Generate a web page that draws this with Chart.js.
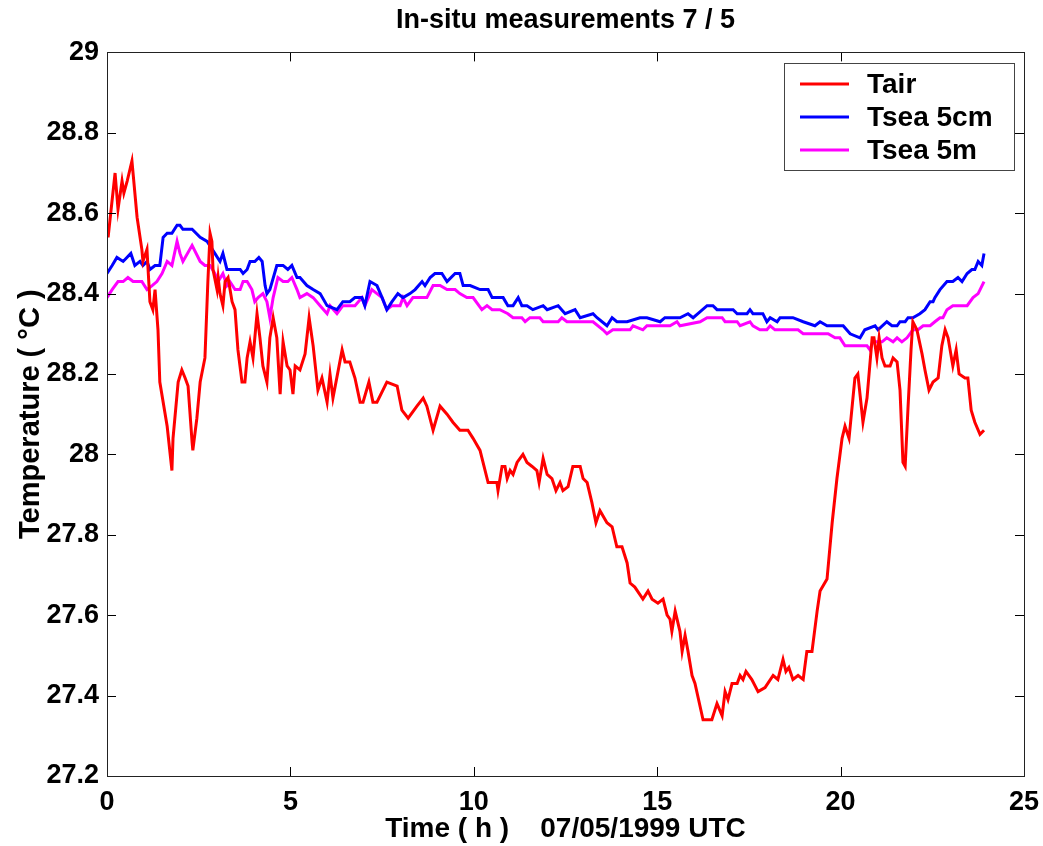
<!DOCTYPE html>
<html>
<head>
<meta charset="utf-8">
<script src="https://cdn.jsdelivr.net/npm/chart.js@4"></script>
<style>
  html, body { margin: 0; padding: 0; background: #fff; }
  #wrap { width: 1043px; height: 846px; }
</style>
</head>
<body>
<div id="wrap"><canvas id="chart" width="1043" height="846"></canvas></div>
<script>
// Tair (red)
var tairHours = [0.00,0.03,0.22,0.30,0.41,0.46,0.55,0.68,0.82,0.95,0.98,1.09,1.12,1.17,1.25,1.31,1.39,1.44,1.64,1.77,1.80,1.94,2.04,2.13,2.21,2.32,2.34,2.45,2.54,2.67,2.75,2.81,2.86,2.89,3.00,3.03,3.08,3.16,3.22,3.30,3.41,3.49,3.57,3.68,3.76,3.82,3.90,3.98,4.09,4.17,4.25,4.36,4.44,4.53,4.63,4.72,4.80,4.91,4.99,5.07,5.13,5.26,5.40,5.51,5.62,5.75,5.86,6.00,6.08,6.16,6.41,6.49,6.62,6.76,6.90,6.98,7.14,7.25,7.36,7.63,7.91,8.04,8.21,8.45,8.62,8.72,8.89,9.08,9.27,9.43,9.62,9.84,9.98,10.17,10.39,10.63,10.66,10.77,10.85,10.91,10.99,11.07,11.18,11.34,11.45,11.59,11.72,11.78,11.89,12.00,12.13,12.24,12.35,12.43,12.57,12.70,12.90,12.98,13.09,13.22,13.33,13.44,13.63,13.77,13.90,14.04,14.18,14.26,14.39,14.61,14.75,14.86,15.02,15.16,15.27,15.35,15.40,15.49,15.62,15.68,15.76,15.84,15.95,16.03,16.25,16.49,16.63,16.77,16.85,16.93,17.04,17.18,17.26,17.34,17.42,17.58,17.75,17.94,18.16,18.29,18.43,18.51,18.59,18.70,18.84,18.98,19.08,19.22,19.36,19.44,19.63,19.77,19.90,20.04,20.12,20.23,20.39,20.47,20.61,20.72,20.86,20.91,20.99,21.05,21.13,21.21,21.35,21.43,21.54,21.62,21.70,21.76,21.84,21.92,21.97,22.08,22.22,22.30,22.41,22.52,22.66,22.76,22.85,22.93,23.06,23.15,23.23,23.39,23.47,23.56,23.66,23.80,23.91];
var tairValues = [28.57,28.54,28.70,28.61,28.68,28.65,28.68,28.73,28.59,28.51,28.48,28.51,28.46,28.38,28.36,28.41,28.31,28.18,28.07,27.96,28.04,28.18,28.21,28.19,28.17,28.03,28.01,28.09,28.18,28.24,28.43,28.55,28.53,28.46,28.41,28.44,28.40,28.37,28.43,28.44,28.38,28.36,28.26,28.18,28.18,28.24,28.28,28.24,28.35,28.29,28.22,28.18,28.29,28.34,28.29,28.15,28.28,28.22,28.21,28.15,28.22,28.21,28.25,28.34,28.27,28.16,28.19,28.13,28.20,28.14,28.26,28.23,28.23,28.19,28.13,28.13,28.18,28.13,28.13,28.18,28.17,28.11,28.09,28.12,28.14,28.12,28.06,28.12,28.10,28.08,28.06,28.06,28.04,28.01,27.93,27.93,27.91,27.97,27.97,27.94,27.96,27.95,27.98,28.00,27.98,27.97,27.96,27.93,27.99,27.95,27.94,27.91,27.93,27.91,27.92,27.97,27.97,27.94,27.93,27.88,27.83,27.86,27.83,27.82,27.77,27.77,27.73,27.68,27.67,27.64,27.66,27.64,27.63,27.64,27.60,27.59,27.56,27.61,27.56,27.51,27.55,27.51,27.45,27.43,27.34,27.34,27.38,27.35,27.41,27.39,27.43,27.43,27.45,27.44,27.46,27.44,27.41,27.42,27.45,27.44,27.49,27.46,27.47,27.44,27.45,27.44,27.51,27.51,27.61,27.66,27.69,27.83,27.94,28.04,28.07,28.04,28.19,28.20,28.08,28.14,28.29,28.29,28.24,28.29,28.24,28.22,28.22,28.24,28.23,28.16,27.98,27.97,28.12,28.26,28.33,28.31,28.25,28.21,28.16,28.18,28.19,28.27,28.31,28.29,28.22,28.26,28.20,28.19,28.19,28.11,28.08,28.05,28.06];

// Tsea 5cm (blue)
var sea5cmHours = [0.00,0.14,0.27,0.44,0.65,0.76,0.90,0.98,1.09,1.17,1.31,1.44,1.53,1.64,1.77,1.91,1.99,2.07,2.32,2.54,2.73,2.94,3.08,3.16,3.27,3.41,3.63,3.71,3.82,3.90,4.03,4.14,4.23,4.31,4.36,4.44,4.63,4.80,4.93,5.04,5.18,5.26,5.45,5.62,5.81,6.00,6.27,6.43,6.62,6.76,6.95,7.03,7.17,7.36,7.50,7.63,7.77,7.93,8.07,8.26,8.40,8.59,8.67,8.81,8.94,9.13,9.27,9.49,9.62,9.71,9.90,10.17,10.39,10.50,10.63,10.80,10.93,11.07,11.21,11.31,11.45,11.61,11.89,12.00,12.30,12.49,12.76,12.90,13.25,13.36,13.63,13.77,13.90,14.18,14.53,14.72,15.08,15.21,15.62,15.84,15.98,16.11,16.36,16.52,16.63,16.79,17.07,17.18,17.45,17.53,17.61,17.88,17.99,18.08,18.27,18.35,18.70,18.98,19.30,19.44,19.63,20.07,20.26,20.53,20.66,20.94,21.02,21.26,21.40,21.54,21.62,21.76,21.84,21.97,22.16,22.30,22.44,22.52,22.57,22.71,22.90,23.06,23.20,23.31,23.45,23.58,23.66,23.75,23.85,23.91];
var sea5cmValues = [28.45,28.47,28.49,28.48,28.50,28.47,28.48,28.47,28.48,28.46,28.47,28.47,28.54,28.55,28.55,28.57,28.57,28.56,28.56,28.54,28.53,28.50,28.48,28.50,28.46,28.46,28.46,28.45,28.46,28.48,28.48,28.49,28.48,28.42,28.40,28.41,28.47,28.47,28.46,28.47,28.44,28.44,28.42,28.41,28.40,28.37,28.36,28.38,28.38,28.39,28.39,28.37,28.43,28.42,28.39,28.36,28.38,28.40,28.39,28.40,28.41,28.43,28.42,28.44,28.45,28.45,28.43,28.45,28.45,28.42,28.42,28.41,28.41,28.39,28.39,28.39,28.37,28.37,28.39,28.37,28.37,28.36,28.37,28.36,28.37,28.35,28.36,28.34,28.35,28.34,28.32,28.34,28.33,28.33,28.34,28.34,28.33,28.34,28.34,28.35,28.34,28.35,28.37,28.37,28.36,28.36,28.36,28.35,28.35,28.36,28.35,28.35,28.33,28.34,28.33,28.34,28.34,28.33,28.32,28.33,28.32,28.32,28.30,28.29,28.31,28.32,28.31,28.33,28.32,28.32,28.33,28.33,28.34,28.34,28.35,28.36,28.38,28.38,28.39,28.41,28.43,28.43,28.44,28.43,28.45,28.46,28.46,28.48,28.47,28.50];

// Tsea 5m (magenta)
var sea5mHours = [0.00,0.14,0.30,0.44,0.57,0.71,0.85,0.95,1.09,1.23,1.36,1.50,1.64,1.77,1.91,1.99,2.07,2.32,2.54,2.67,2.81,2.94,3.03,3.16,3.27,3.35,3.49,3.63,3.71,3.82,3.95,4.03,4.12,4.25,4.36,4.44,4.53,4.66,4.80,4.93,5.04,5.18,5.26,5.45,5.62,5.81,6.00,6.08,6.27,6.43,6.62,6.76,6.95,7.03,7.22,7.36,7.50,7.63,7.77,7.99,8.07,8.18,8.34,8.53,8.72,8.89,9.08,9.27,9.49,9.62,9.81,9.98,10.22,10.36,10.50,10.71,10.93,11.07,11.31,11.40,11.53,11.80,11.89,12.30,12.40,12.54,13.25,13.52,13.63,13.79,14.26,14.34,14.61,14.72,15.35,15.54,15.62,16.17,16.36,16.77,16.85,17.18,17.26,17.53,17.61,17.80,17.99,18.08,18.21,18.84,18.98,19.66,19.85,19.98,20.12,20.72,20.80,20.88,21.13,21.26,21.43,21.54,21.67,21.81,21.89,21.97,22.11,22.25,22.44,22.57,22.71,22.79,22.90,23.06,23.26,23.45,23.61,23.75,23.91];
var sea5mValues = [28.39,28.41,28.43,28.43,28.44,28.43,28.43,28.43,28.41,28.42,28.43,28.45,28.48,28.47,28.53,28.50,28.48,28.52,28.48,28.47,28.47,28.45,28.43,28.45,28.42,28.43,28.41,28.41,28.43,28.43,28.41,28.38,28.39,28.40,28.38,28.34,28.39,28.44,28.43,28.43,28.44,28.41,28.39,28.40,28.39,28.37,28.35,28.37,28.35,28.37,28.37,28.37,28.39,28.37,28.41,28.40,28.39,28.36,28.37,28.37,28.39,28.37,28.39,28.39,28.39,28.42,28.42,28.41,28.41,28.40,28.39,28.39,28.36,28.37,28.36,28.36,28.35,28.34,28.34,28.33,28.34,28.34,28.33,28.33,28.34,28.33,28.33,28.31,28.30,28.31,28.31,28.32,28.31,28.32,28.32,28.33,28.32,28.33,28.34,28.34,28.33,28.33,28.32,28.33,28.32,28.31,28.31,28.32,28.31,28.31,28.30,28.30,28.29,28.29,28.27,28.27,28.26,28.28,28.28,28.29,28.28,28.29,28.28,28.29,28.30,28.31,28.31,28.32,28.32,28.33,28.34,28.34,28.36,28.37,28.37,28.37,28.39,28.40,28.43];

var seriesNames = ["Tair", "Tsea 5cm", "Tsea 5m"];
var seriesColors = ["#ff0000", "#0000ff", "#ff00ff"];
var xTicks = [0, 5, 10, 15, 20, 25];
var yTicks = [27.2, 27.4, 27.6, 27.8, 28, 28.2, 28.4, 28.6, 28.8, 29];

function pairs(xs, ys) {
    var out = [];
    for (var i = 0; i < xs.length; i++) {
        out.push({x: xs[i], y: ys[i]});
    }
    return out;
}

var FONT = "'Liberation Sans', Arial, sans-serif";

// inside tick marks, the axes box and the legend box, MATLAB style
var boxPlugin = {
    id: "boxPlugin",
    afterDatasetsDraw: function(chart) {
        var ctx = chart.ctx;
        var a = chart.chartArea;
        var xs = chart.scales.x;
        var ys = chart.scales.y;
        ctx.save();
        ctx.lineWidth = 1;
        ctx.strokeStyle = "#000";
        ctx.beginPath();
        xs.ticks.forEach(function(t) {
            var px = Math.round(xs.getPixelForValue(t.value)) + 0.5;
            ctx.moveTo(px, a.bottom); ctx.lineTo(px, a.bottom - 9);
            ctx.moveTo(px, a.top); ctx.lineTo(px, a.top + 9);
        });
        ys.ticks.forEach(function(t) {
            var py = Math.round(ys.getPixelForValue(t.value)) + 0.5;
            ctx.moveTo(a.left, py); ctx.lineTo(a.left + 9, py);
            ctx.moveTo(a.right, py); ctx.lineTo(a.right - 9, py);
        });
        ctx.stroke();

        ctx.strokeStyle = "#222";
        ctx.strokeRect(Math.round(a.left) + 0.5, Math.round(a.top) + 0.5,
            Math.round(a.right - a.left), Math.round(a.bottom - a.top));

        // legend
        var lx = 784, ly = 63, lw = 230, lh = 107;
        ctx.fillStyle = "#fff";
        ctx.fillRect(lx, ly, lw, lh);
        ctx.strokeStyle = "#444";
        ctx.strokeRect(lx + 0.5, ly + 0.5, lw, lh);
        ctx.font = "bold 28px " + FONT;
        ctx.textBaseline = "middle";
        ctx.textAlign = "left";
        chart.data.datasets.forEach(function(ds, i) {
            var cy = 84 + i * 33;
            ctx.strokeStyle = ds.borderColor;
            ctx.lineWidth = 3;
            ctx.beginPath();
            ctx.moveTo(800, cy); ctx.lineTo(849, cy);
            ctx.stroke();
            ctx.fillStyle = "#000";
            ctx.fillText(ds.label, 867, cy + 1);
        });
        ctx.restore();
    }
};

new Chart(document.getElementById("chart"), {
    type: "line",
    data: {
        datasets: [
            {label: seriesNames[0], data: pairs(tairHours, tairValues), borderColor: seriesColors[0]},
            {label: seriesNames[1], data: pairs(sea5cmHours, sea5cmValues), borderColor: seriesColors[1]},
            {label: seriesNames[2], data: pairs(sea5mHours, sea5mValues), borderColor: seriesColors[2]}
        ]
    },
    options: {
        responsive: false,
        animation: false,
        layout: { padding: { left: 0, right: 19, top: 0, bottom: 0 } },
        elements: {
            point: { radius: 0 },
            line: { borderWidth: 3, tension: 0 }
        },
        plugins: {
            legend: { display: false },
            tooltip: { enabled: false },
            title: {
                display: true,
                fullSize: false,
                text: "In-situ measurements 7 / 5",
                color: "#000",
                font: { family: FONT, size: 27, weight: "bold" },
                padding: { top: 4, bottom: 16 }
            }
        },
        scales: {
            x: {
                type: "linear",
                min: 0,
                max: 25,
                grid: { display: false, drawTicks: false },
                border: { display: false },
                afterBuildTicks: function(scale) {
                    scale.ticks = xTicks.map(function(v) { return {value: v}; });
                },
                afterFit: function(scale) {
                    scale.height = 70;
                    scale.paddingLeft = 0;
                    scale.paddingRight = 0;
                },
                ticks: {
                    color: "#000",
                    padding: 10,
                    autoSkip: false,
                    maxRotation: 0,
                    font: { family: FONT, size: 27, weight: "bold" }
                },
                title: {
                    display: true,
                    text: "Time ( h )    07/05/1999 UTC",
                    color: "#000",
                    font: { family: FONT, size: 28, weight: "bold" },
                    padding: { top: 0, bottom: 0 }
                }
            },
            y: {
                min: 27.2,
                max: 29,
                grid: { display: false, drawTicks: false },
                border: { display: false },
                afterBuildTicks: function(scale) {
                    scale.ticks = yTicks.map(function(v) { return {value: v}; });
                },
                afterFit: function(scale) {
                    scale.width = 107;
                    scale.paddingTop = 0;
                    scale.paddingBottom = 0;
                },
                ticks: {
                    color: "#000",
                    padding: 8,
                    autoSkip: false,
                    font: { family: FONT, size: 27, weight: "bold" },
                    callback: function(v) { return String(+(+v).toFixed(1)); }
                },
                title: {
                    display: true,
                    text: "Temperature ( \u00B0C )",
                    color: "#000",
                    font: { family: FONT, size: 29, weight: "bold" },
                    padding: { top: 14, bottom: 0 }
                }
            }
        }
    },
    plugins: [boxPlugin]
});
</script>
</body>
</html>
